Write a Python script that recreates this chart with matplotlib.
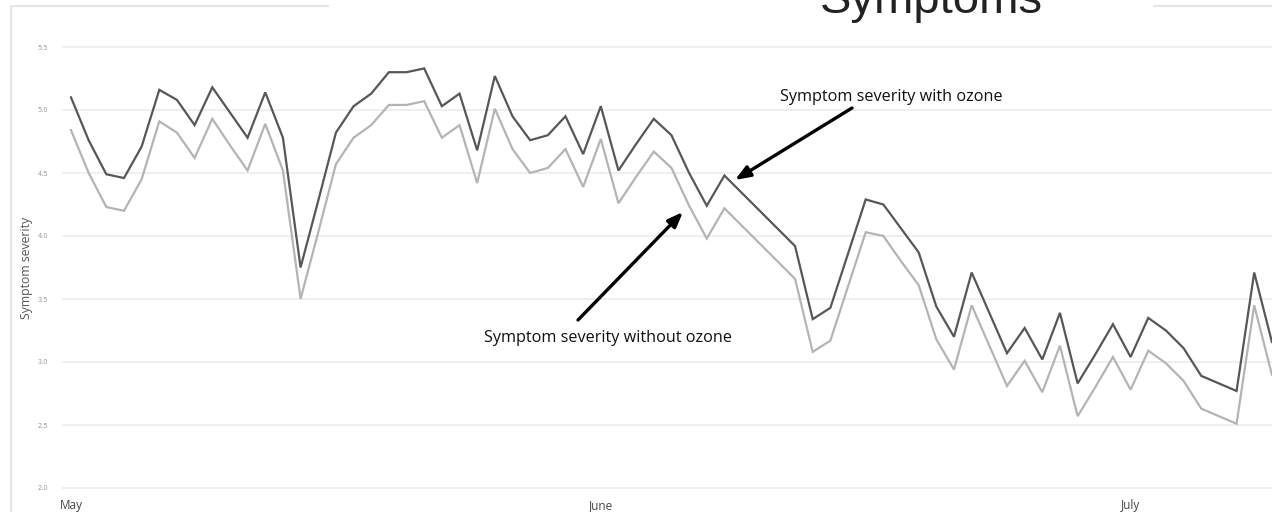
import matplotlib
matplotlib.use("Agg")
import matplotlib.pyplot as plt
from matplotlib.lines import Line2D

# ---- data ----
with_ozone = [5.10, 4.76, 4.49, 4.46, 4.71, 5.16, 5.08, 4.88, 5.18, 4.98,
              4.78, 5.14, 4.78, 3.75, 4.28, 4.82, 5.03, 5.13, 5.30, 5.30,
              5.33, 5.03, 5.13, 4.68, 5.27, 4.95, 4.76, 4.80, 4.95, 4.65,
              5.03, 4.52, 4.73, 4.93, 4.80, 4.50, 4.24, 4.48, 4.34, 4.20,
              4.06, 3.92, 3.34, 3.43, 3.86, 4.29, 4.25, 4.06, 3.87, 3.44,
              3.20, 3.71, 3.39, 3.07, 3.27, 3.02, 3.39, 2.83, 3.06, 3.30,
              3.04, 3.35, 3.25, 3.11, 2.89, 2.83, 2.77, 3.71, 3.16]
without_ozone = [4.84, 4.50, 4.23, 4.20, 4.45, 4.91, 4.82, 4.62, 4.93, 4.72,
                 4.52, 4.89, 4.52, 3.50, 4.03, 4.57, 4.78, 4.88, 5.04, 5.04,
                 5.07, 4.78, 4.88, 4.42, 5.01, 4.69, 4.50, 4.54, 4.69, 4.39,
                 4.77, 4.26, 4.47, 4.67, 4.54, 4.24, 3.98, 4.22, 4.08, 3.94,
                 3.80, 3.66, 3.08, 3.17, 3.60, 4.03, 4.00, 3.80, 3.61, 3.18,
                 2.94, 3.45, 3.13, 2.81, 3.01, 2.76, 3.13, 2.57, 2.80, 3.04,
                 2.78, 3.09, 2.99, 2.85, 2.63, 2.57, 2.51, 3.45, 2.90]
days = list(range(len(with_ozone)))
month_ticks = [0, 30, 60]
month_labels = ["May", "June", "July"]
y_ticks = [2.0, 2.5, 3.0, 3.5, 4.0, 4.5, 5.0, 5.5]

W, H = 1272, 512
fig = plt.figure(figsize=(W / 100, H / 100), dpi=100)
fig.patch.set_facecolor("white")

# axes placement in pixels
ax_left, ax_right, ax_top, ax_bot = 62, 1272, 40, 495
ax = fig.add_axes([ax_left / W, (H - ax_bot) / H, (ax_right - ax_left) / W, (ax_bot - ax_top) / H])

px_per_day = 17.66
x0_px = 71
ax.set_xlim((ax_left - x0_px) / px_per_day, (ax_right - x0_px) / px_per_day)
px_per_unit = 126.0
ax.set_ylim(2.0 - (ax_bot - 488) / px_per_unit, 5.5 + (47 - ax_top) / px_per_unit)

ax.plot(days, without_ozone, color="#b4b4b4", lw=1.6, solid_joinstyle="miter", zorder=3)
ax.plot(days, with_ozone, color="#575757", lw=1.6, solid_joinstyle="miter", zorder=4)

for s in ax.spines.values():
    s.set_visible(False)
ax.set_yticks(y_ticks)
ax.set_yticklabels([f"{v:.1f}" for v in y_ticks], fontsize=4.8, color="#9a9a9a")
ax.yaxis.grid(True, color="#ececec", lw=1.2)
ax.set_axisbelow(True)
ax.tick_params(axis="y", length=0, pad=10)
ax.set_xticks(month_ticks)
ax.set_xticklabels(month_labels, fontsize=8.5, color="#444444", family="Open Sans")
ax.tick_params(axis="x", length=0, pad=3)
ax.set_ylabel("Symptom severity", fontsize=8.8, color="#555555", family="Open Sans")
ax.yaxis.set_label_coords(-(62 - 33) / (ax_right - ax_left), (ax_bot - 268) / (ax_bot - ax_top))

def dx(px):
    return (px - x0_px) / px_per_day

def dy(py):
    return 2.0 + (488 - py) / px_per_unit

arrow_kw = dict(arrowstyle="-|>,head_length=0.9,head_width=0.35", color="black", lw=2.4,
                shrinkA=0, shrinkB=0)
ax.annotate("", xy=(dx(735), dy(180)), xytext=(dx(852), dy(108)), arrowprops=arrow_kw, zorder=6)
ax.annotate("", xy=(dx(683), dy(212)), xytext=(dx(578), dy(320)), arrowprops=arrow_kw, zorder=6)
ax.text(dx(891), dy(97), "Symptom severity with ozone", ha="center", va="center",
        fontsize=11.7, family="Open Sans", color="#111111", zorder=7)
ax.text(dx(608), dy(338), "Symptom severity without ozone", ha="center", va="center",
        fontsize=11.7, family="Open Sans", color="#111111", zorder=7)

# panel border (broken by the title)
bc = "#e6e6e6"
fig.add_artist(Line2D([11 / W, 328 / W], [1 - 5.5 / H] * 2, color=bc, lw=1.5, transform=fig.transFigure))
fig.add_artist(Line2D([1154 / W, 1.0], [1 - 5.5 / H] * 2, color=bc, lw=1.5, transform=fig.transFigure))
fig.add_artist(Line2D([11 / W, 11 / W], [0, 1 - 5.5 / H], color=bc, lw=1.5, transform=fig.transFigure))

fig.text(931 / W, 1 - 13 / H, "Symptoms", ha="center", va="baseline", fontsize=34,
         family="Liberation Sans", color="#222222")

fig.savefig("out.png", dpi=100, facecolor="white")
